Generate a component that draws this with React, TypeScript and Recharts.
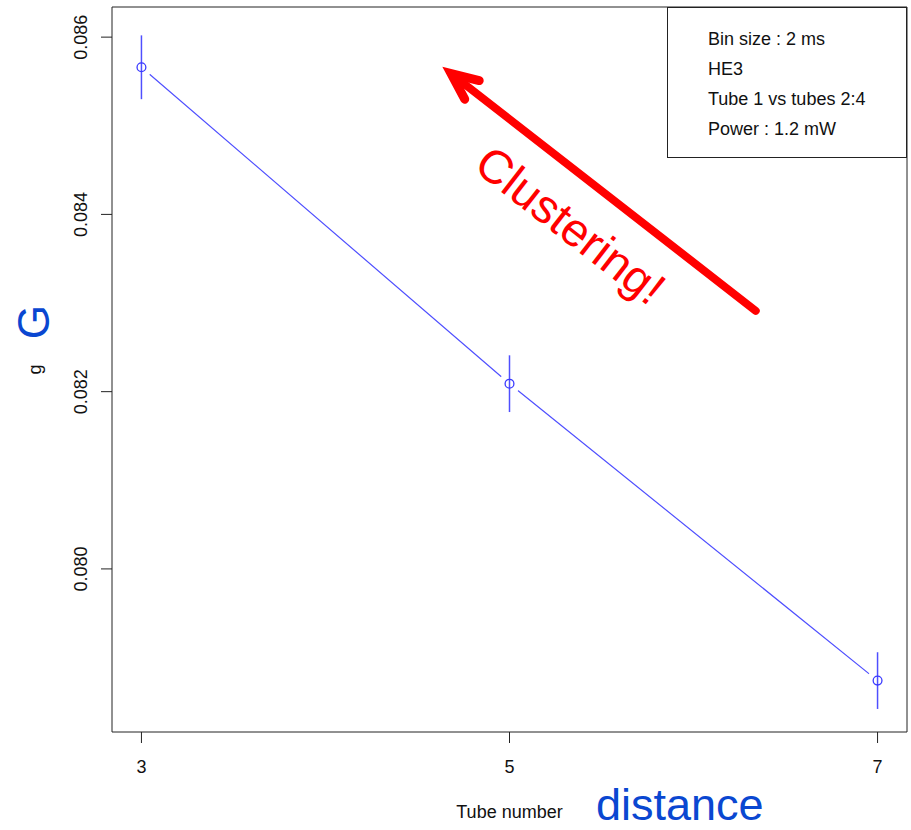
import React from 'react';
import {
  ComposedChart,
  Line,
  Scatter,
  ErrorBar,
  XAxis,
  YAxis,
  ReferenceArea,
  ReferenceLine,
  Legend,
} from 'recharts';

// measured G per tube, with its standard error
const tubes = [3, 5, 7];
const gValues = [0.08566, 0.08209, 0.07874];
const gErrors = [0.00036, 0.00032, 0.00032];

const xTicks = [3, 5, 7];
const yTicks = [0.08, 0.082, 0.084, 0.086];
const xDomain = [2.84, 7.16];
const yDomain = [0.07816, 0.08634];

const legendLines = ['Bin size : 2 ms', 'HE3', 'Tube 1 vs tubes 2:4', 'Power : 1.2 mW'];

// annotation arrow, tail then head, in data units
const arrowFrom = { x: 6.338, y: 0.082912 };
const arrowTo = { x: 4.635, y: 0.085665 };
const arrowText = 'Clustering!';

const rows = tubes.map((t, i) => ({ tube: t, g: gValues[i], err: gErrors[i] }));

const FONT = '"Liberation Sans", Arial, Helvetica, sans-serif';
const BLUE = '#4f4fff';
const RED = '#ff0000';
const LABEL_BLUE = '#0a47d1';

function XTick(props: any) {
  const { x, y, payload } = props;
  return (
    <text x={x} y={y + 28} textAnchor="middle" fontSize={18} fill="#111" fontFamily={FONT}>
      {payload.value}
    </text>
  );
}

function YTick(props: any) {
  const { x, y, payload } = props;
  const bx = x - 12;
  return (
    <text
      x={bx}
      y={y}
      transform={`rotate(-90, ${bx}, ${y})`}
      textAnchor="middle"
      fontSize={18}
      fill="#111"
      fontFamily={FONT}
    >
      {payload.value.toFixed(3)}
    </text>
  );
}

function YTitle(props: any) {
  const { viewBox } = props;
  const cy = viewBox.y + viewBox.height / 2;
  return (
    <g fontFamily={FONT}>
      <text x={41} y={cy} transform={`rotate(-90, 41, ${cy})`} textAnchor="middle" fontSize={18} fill="#111">
        g
      </text>
      <text x={49} y={322} transform={`rotate(-90, 49, 322)`} textAnchor="middle" fontSize={44} fill={LABEL_BLUE}>
        G
      </text>
    </g>
  );
}

function XTitle(props: any) {
  const { viewBox } = props;
  const cx = viewBox.x + viewBox.width / 2;
  return (
    <g fontFamily={FONT}>
      <text x={cx} y={818} textAnchor="middle" fontSize={18} fill="#111">
        Tube number
      </text>
      <text x={596} y={820} textAnchor="start" fontSize={45} fill={LABEL_BLUE}>
        distance
      </text>
    </g>
  );
}

function ArrowShape(props: any) {
  const { x1, y1, x2, y2 } = props;
  const dx = x1 - x2;
  const dy = y1 - y2;
  const len = Math.sqrt(dx * dx + dy * dy);
  const ux = dx / len;
  const uy = dy / len;
  const ang = Math.atan2(dy, dx);
  const wing = 29;
  const spread = (24 * Math.PI) / 180;
  const sw = 9;
  // pull the vertex back so the mitred point lands on the tip
  const back = sw / 2 / Math.sin(spread);
  const vx = x2 + ux * back;
  const vy = y2 + uy * back;
  const w1 = { x: vx + wing * Math.cos(ang - spread), y: vy + wing * Math.sin(ang - spread) };
  const w2 = { x: vx + wing * Math.cos(ang + spread), y: vy + wing * Math.sin(ang + spread) };
  const mx = (x1 + x2) / 2 - 46 * uy;
  const my = (y1 + y2) / 2 + 46 * ux;
  const deg = (ang * 180) / Math.PI;
  return (
    <g>
      <line x1={x1} y1={y1} x2={vx + ux * 4} y2={vy + uy * 4} stroke={RED} strokeWidth={8} strokeLinecap="round" />
      <polyline
        points={`${w1.x},${w1.y} ${vx},${vy} ${w2.x},${w2.y}`}
        fill="none"
        stroke={RED}
        strokeWidth={sw}
        strokeLinecap="round"
        strokeLinejoin="miter"
        strokeMiterlimit={10}
      />
      <text
        x={mx}
        y={my}
        transform={`rotate(${deg}, ${mx}, ${my})`}
        textAnchor="middle"
        dominantBaseline="central"
        fontSize={47}
        fill={RED}
        fontFamily={FONT}
      >
        {arrowText}
      </text>
    </g>
  );
}

function NotesBox() {
  return (
    <div
      style={{
        width: 240,
        height: 151,
        boxSizing: 'border-box',
        border: '1px solid #222',
        background: '#fff',
        fontFamily: FONT,
        fontSize: 18,
        color: '#111',
        paddingTop: 16,
        paddingLeft: 40,
        lineHeight: '30px',
      }}
    >
      {legendLines.map((l) => (
        <div key={l}>{l}</div>
      ))}
    </div>
  );
}

export default function App() {
  return (
    <div style={{ position: 'absolute', left: 0, top: 0, width: 911, height: 830, background: '#fff' }}>
      <ComposedChart width={911} height={830} data={rows} margin={{ top: 7, right: 4, left: 0, bottom: 0 }}>
        <XAxis
          type="number"
          dataKey="tube"
          domain={xDomain}
          ticks={xTicks}
          allowDataOverflow
          height={98}
          axisLine={false}
          tickSize={11}
          tickLine={{ stroke: '#222' }}
          tick={<XTick />}
          label={{ content: <XTitle /> }}
        />
        <YAxis
          type="number"
          domain={yDomain}
          ticks={yTicks}
          allowDataOverflow
          width={112}
          axisLine={false}
          tickSize={11}
          tickLine={{ stroke: '#222' }}
          tick={<YTick />}
          label={{ content: <YTitle /> }}
        />
        <ReferenceArea
          x1={xDomain[0]}
          x2={xDomain[1]}
          y1={yDomain[0]}
          y2={yDomain[1]}
          fill="none"
          stroke="#222"
          strokeWidth={1}
          fillOpacity={0}
        />
        <Line
          dataKey="g"
          stroke={BLUE}
          strokeWidth={1.2}
          dot={false}
          activeDot={false}
          isAnimationActive={false}
          zIndex={400}
        />
        {/* white disks break the line round each point */}
        <Scatter
          dataKey="g"
          isAnimationActive={false}
          zIndex={450}
          shape={(p: any) => <circle cx={p.cx} cy={p.cy} r={11} fill="#fff" />}
        />
        <Scatter
          dataKey="g"
          isAnimationActive={false}
          zIndex={700}
          shape={(p: any) => <circle cx={p.cx} cy={p.cy} r={4.4} fill="none" stroke="#3a3aff" strokeWidth={1.3} />}
        >
          <ErrorBar
            dataKey="err"
            direction="y"
            width={0}
            stroke={BLUE}
            strokeWidth={1.5}
            isAnimationActive={false}
            zIndex={700}
          />
        </Scatter>
        <ReferenceLine segment={[arrowFrom, arrowTo]} ifOverflow="visible" shape={<ArrowShape />} />
        <Legend
          layout="horizontal"
          verticalAlign="middle"
          align="center"
          wrapperStyle={{ position: 'absolute', left: 667, top: 7, width: 240, height: 151 }}
          content={<NotesBox />}
        />
      </ComposedChart>
    </div>
  );
}
